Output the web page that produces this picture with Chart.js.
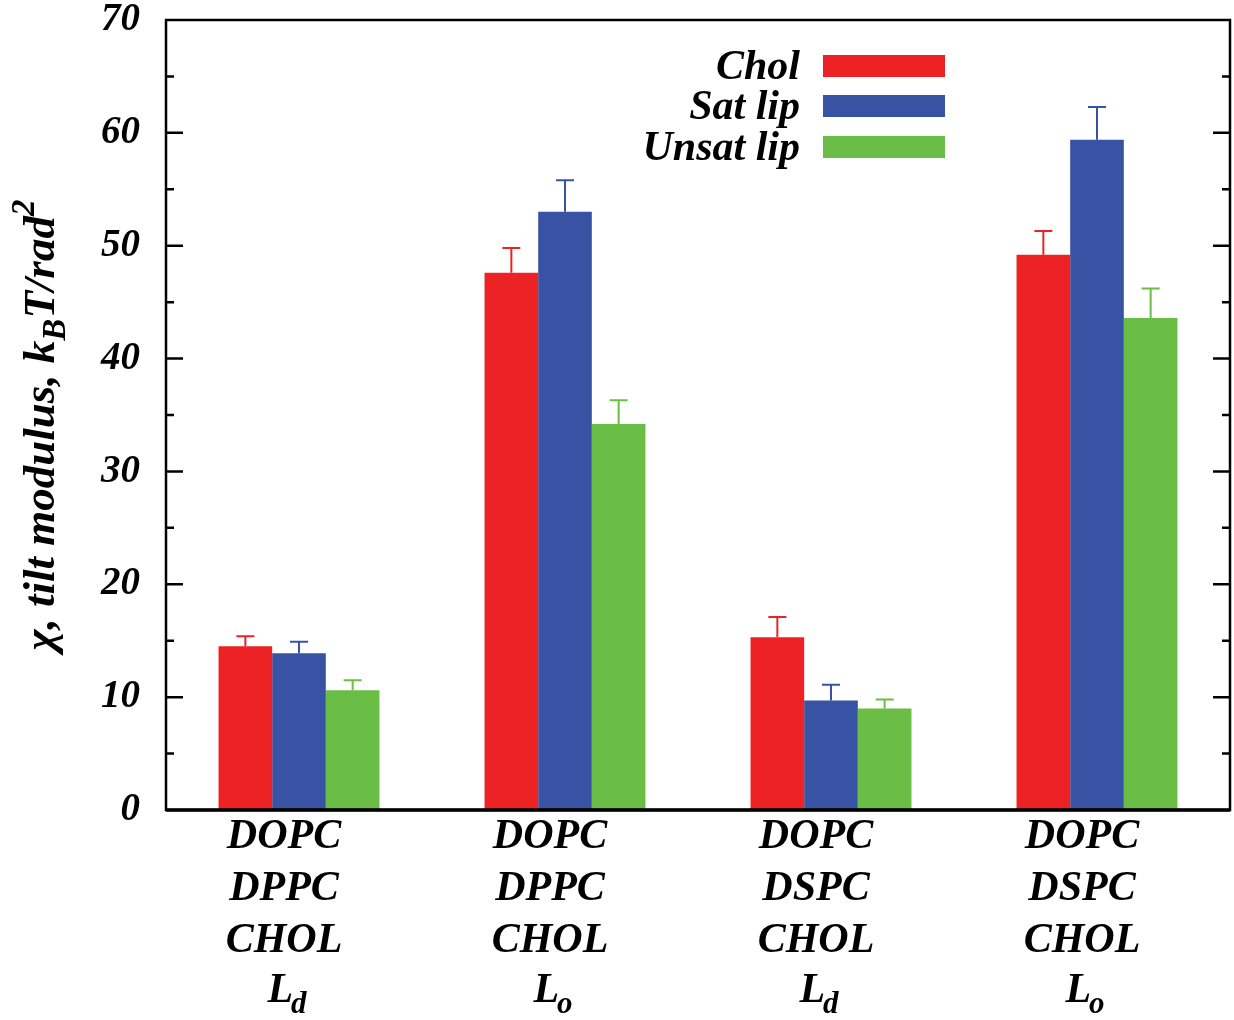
<!DOCTYPE html>
<html>
<head>
<meta charset="utf-8">
<script src="https://cdn.jsdelivr.net/npm/chart.js@4.4.1/dist/chart.umd.min.js"></script>
<style>
body{margin:0;background:#fff}
#wrap{width:1234px;height:1020px;position:relative}
</style>
</head>
<body>
<div id="wrap"><canvas id="myChart"></canvas></div>
<script>
// data
const categories = ['DOPC DPPC CHOL Ld', 'DOPC DPPC CHOL Lo', 'DOPC DSPC CHOL Ld', 'DOPC DSPC CHOL Lo'];
const lipidLines = [['DOPC','DPPC','CHOL'], ['DOPC','DPPC','CHOL'], ['DOPC','DSPC','CHOL'], ['DOPC','DSPC','CHOL']];
const phaseSub = ['d', 'o', 'd', 'o'];
const seriesNames = ['Chol', 'Sat lip', 'Unsat lip'];
const cholVals = [14.5, 47.6, 15.3, 49.2];
const cholErr = [0.9, 2.2, 1.8, 2.1];
const satVals = [13.9, 53.0, 9.7, 59.4];
const satErr = [1.0, 2.8, 1.4, 2.9];
const unsatVals = [10.6, 34.2, 9.0, 43.6];
const unsatErr = [0.9, 2.1, 0.8, 2.6];
const yTicks = [0, 10, 20, 30, 40, 50, 60, 70];

const colors = ['#ED2224', '#3953A4', '#6ABD45'];
const errs = [cholErr, satErr, unsatErr];
const FONT = '"Liberation Serif", "Times New Roman", serif';

const errorBars = {
  id: 'errorBars',
  afterDatasetsDraw(chart) {
    const ctx = chart.ctx, y = chart.scales.y;
    chart.data.datasets.forEach((ds, di) => {
      const meta = chart.getDatasetMeta(di);
      meta.data.forEach((bar, i) => {
        const top = y.getPixelForValue(ds.data[i] + errs[di][i]);
        ctx.save();
        ctx.strokeStyle = colors[di];
        ctx.lineWidth = 2;
        ctx.beginPath();
        ctx.moveTo(bar.x, bar.y);
        ctx.lineTo(bar.x, top);
        ctx.moveTo(bar.x - 9, top);
        ctx.lineTo(bar.x + 9, top);
        ctx.stroke();
        ctx.restore();
      });
    });
  }
};

const frame = {
  id: 'frame',
  afterDraw(chart) {
    const ctx = chart.ctx, a = chart.chartArea, y = chart.scales.y, x = chart.scales.x;
    ctx.save();
    ctx.strokeStyle = '#000';
    ctx.lineWidth = 2.5;
    ctx.strokeRect(a.left, a.top, a.right - a.left, a.bottom - a.top);
    ctx.lineWidth = 3.5;
    ctx.beginPath();
    ctx.moveTo(a.left, a.bottom); ctx.lineTo(a.right, a.bottom);
    ctx.stroke();
    // inward ticks both sides
    ctx.lineWidth = 2.5;
    for (let v = 5; v < 70; v += 5) {
      const py = y.getPixelForValue(v);
      const len = v % 10 === 0 ? 17 : 8;
      ctx.beginPath();
      ctx.moveTo(a.left, py); ctx.lineTo(a.left + len, py);
      ctx.moveTo(a.right, py); ctx.lineTo(a.right - len, py);
      ctx.stroke();
    }
    // category labels
    ctx.fillStyle = '#000';
    ctx.textBaseline = 'alphabetic';
    const big = 'italic bold 42px ' + FONT, small = 'italic bold 31px ' + FONT;
    lipidLines.forEach((lines, i) => {
      const cx = x.getPixelForValue(i) - 15;
      ctx.textAlign = 'center';
      ctx.font = big;
      lines.forEach((t, k) => ctx.fillText(t, cx, 848 + k * 52));
      // L with subscript
      const wL = ctx.measureText('L').width;
      ctx.font = small;
      const wS = ctx.measureText(phaseSub[i]).width;
      const x0 = cx - (wL + wS) / 2 + 4;
      ctx.textAlign = 'left';
      ctx.font = big;
      ctx.fillText('L', x0, 1002);
      ctx.font = small;
      ctx.fillText(phaseSub[i], x0 + wL - 2, 1013);
    });
    // legend
    ctx.textAlign = 'right';
    ctx.font = 'italic bold 42px ' + FONT;
    const legY = [55, 95, 136];
    seriesNames.forEach((n, i) => {
      ctx.fillStyle = '#000';
      ctx.fillText(n, 800, legY[i] + 24);
      ctx.fillStyle = colors[i];
      ctx.fillRect(823, legY[i], 122, 22);
    });
    // y title, rotated, with sub/superscript
    ctx.save();
    ctx.translate(54, 425);
    ctx.rotate(-Math.PI / 2);
    ctx.fillStyle = '#000';
    ctx.textAlign = 'left';
    const parts = [
      ['χ, tilt modulus, k', 45, 0],
      ['B', 33, 11],
      ['T/rad', 45, 0],
      ['2', 33, -20]
    ];
    let total = 0;
    parts.forEach(p => { ctx.font = 'italic bold ' + p[1] + 'px ' + FONT; total += ctx.measureText(p[0]).width; });
    let px = -total / 2;
    parts.forEach(p => {
      ctx.font = 'italic bold ' + p[1] + 'px ' + FONT;
      ctx.fillText(p[0], px, p[2]);
      px += ctx.measureText(p[0]).width;
    });
    ctx.restore();
    ctx.restore();
  }
};

new Chart(document.getElementById('myChart'), {
  type: 'bar',
  data: {
    labels: categories,
    datasets: seriesNames.map((n, i) => ({
      label: n,
      data: [cholVals, satVals, unsatVals][i],
      backgroundColor: colors[i],
      borderWidth: 0,
      categoryPercentage: 0.605,
      barPercentage: 1.0
    }))
  },
  options: {
    responsive: true,
    maintainAspectRatio: false,
    animation: false,
    devicePixelRatio: 1,
    layout: { padding: { left: 0, top: 20, right: 4, bottom: 210 } },
    plugins: { legend: { display: false }, tooltip: { enabled: false } },
    scales: {
      x: { display: false },
      y: {
        min: 0, max: 70,
        afterBuildTicks: s => { s.ticks = yTicks.map(v => ({ value: v })); },
        afterFit: s => { s.width = 166; s.paddingTop = 0; s.paddingBottom = 0; },
        grid: { display: false, drawTicks: false },
        border: { display: false },
        ticks: {
          padding: 26,
          color: '#000',
          font: { family: FONT, size: 39, style: 'italic', weight: 'bold' }
        }
      }
    }
  },
  plugins: [errorBars, frame]
});
</script>
</body>
</html>
